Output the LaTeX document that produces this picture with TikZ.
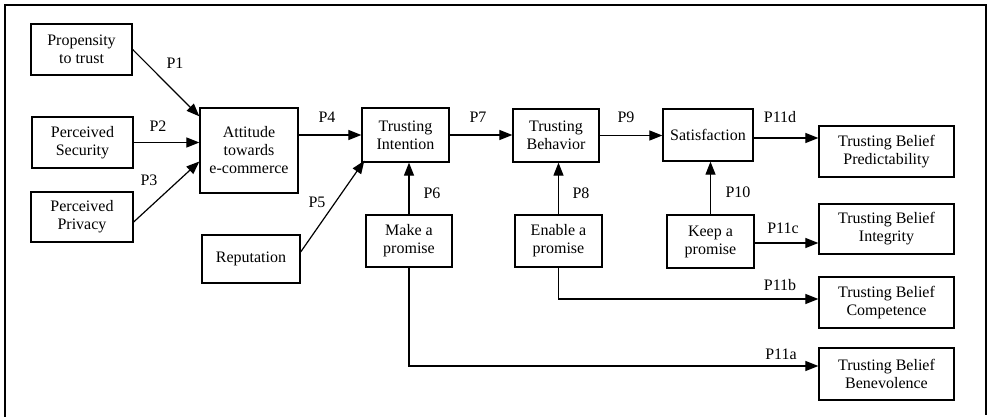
\documentclass[tikz,border=0pt]{standalone}
\usepackage{fontspec}
\setmainfont{Liberation Serif}
\usetikzlibrary{arrows.meta}
\begin{document}
\begin{tikzpicture}[x=1pt,y=-1pt,
  every node/.style={font=\fontsize{16}{18}\selectfont},
  box/.style={draw, line width=1.3pt, align=center, inner sep=0pt},
  lbl/.style={inner sep=0pt},
  arr/.style={line width=1.2pt, -{Triangle[length=13pt,width=10pt]}},
  ln/.style={line width=1.2pt}]
\useasboundingbox (0,0) rectangle (990,417);
\draw[line width=1.2pt] (5,418) -- (5,5) -- (986,5) -- (986,415);
% boxes
\node[box, minimum width=101pt, minimum height=51pt] (prop) at (81.5,49.5) {Propensity\\to trust};
\node[box, minimum width=101pt, minimum height=51pt] (sec) at (82.5,142.5) {Perceived\\Security};
\node[box, minimum width=102pt, minimum height=50pt] (priv) at (82,217) {Perceived\\Privacy};
\node[box, minimum width=98pt, minimum height=85pt] (att) at (249,150.5) {Attitude\\towards\\e-commerce};
\node[box, minimum width=98pt, minimum height=48pt] (rep) at (251,259) {Reputation};
\node[box, minimum width=87pt, minimum height=54pt] (int) at (405.5,135) {Trusting\\Intention};
\node[box, minimum width=86pt, minimum height=53pt] (beh) at (556,135.5) {Trusting\\Behavior};
\node[box, minimum width=86pt, minimum height=52pt] (make) at (409,241) {Make a\\promise};
\node[box, minimum width=87pt, minimum height=52pt] (enable) at (558.5,241) {Enable a\\promise};
\node[box, minimum width=90pt, minimum height=52pt] (sat) at (708,135) {Satisfaction};
\node[box, minimum width=87pt, minimum height=53pt] (keep) at (710.5,241.5) {Keep a\\promise};
\node[box, minimum width=135pt, minimum height=51pt] (pred) at (886.5,151.5) {Trusting Belief\\Predictability};
\node[box, minimum width=135pt, minimum height=50pt] (integ) at (886.5,229) {Trusting Belief\\Integrity};
\node[box, minimum width=135pt, minimum height=51pt] (comp) at (886.5,302.5) {Trusting Belief\\Competence};
\node[box, minimum width=135pt, minimum height=52pt] (benev) at (886.5,374) {Trusting Belief\\Benevolence};
% connectors
\draw[arr] (prop.east) -- ([yshift=-9pt]att.north west);
\draw[arr] (sec.east) -- (sec.east -| att.west);
\draw[arr] ([yshift=-5pt]priv.east) -- ([yshift=-11pt]att.west);
\draw[arr] (att.east |- int.west) -- (int.west);
\draw[arr] ([yshift=7pt]rep.east) -- ([xshift=3pt,yshift=2pt]int.south west);
\draw[arr] (make.north) -- (make.north |- int.south);
\draw[arr] (int.east) -- (int.east -| beh.west);
\draw[arr] (enable.north) -- (enable.north |- beh.south);
\draw[arr] (beh.east) -- (beh.east -| sat.west);
\draw[arr] (keep.north) -- (keep.north |- sat.south);
\draw[arr] ([yshift=-3pt]sat.east) -- ([yshift=-3pt]sat.east -| pred.west);
\draw[arr] ([yshift=-1.5pt]keep.east) -- ([yshift=-1.5pt]keep.east -| integ.west);
\draw[arr] (enable.south) |- ([yshift=3.5pt]comp.west);
\draw[arr] (make.south) |- ([yshift=8pt]benev.west);
% labels
\node[lbl] (l1) at (175,63) {P1};
\node[lbl] (l2) at (158,126) {P2};
\node[lbl] (l3) at (149,180) {P3};
\node[lbl] (l4) at (327,117) {P4};
\node[lbl] (l5) at (317,202) {P5};
\node[lbl] (l6) at (432,193) {P6};
\node[lbl] (l7) at (478,117) {P7};
\node[lbl] (l8) at (581,193) {P8};
\node[lbl] (l9) at (626,117) {P9};
\node[lbl] (l10) at (738,192) {P10};
\node[lbl] (l11d) at (780,117) {P11d};
\node[lbl] (l11c) at (783,228) {P11c};
\node[lbl] (l11b) at (780,285) {P11b};
\node[lbl] (l11a) at (781,354) {P11a};
\end{tikzpicture}
\end{document}
